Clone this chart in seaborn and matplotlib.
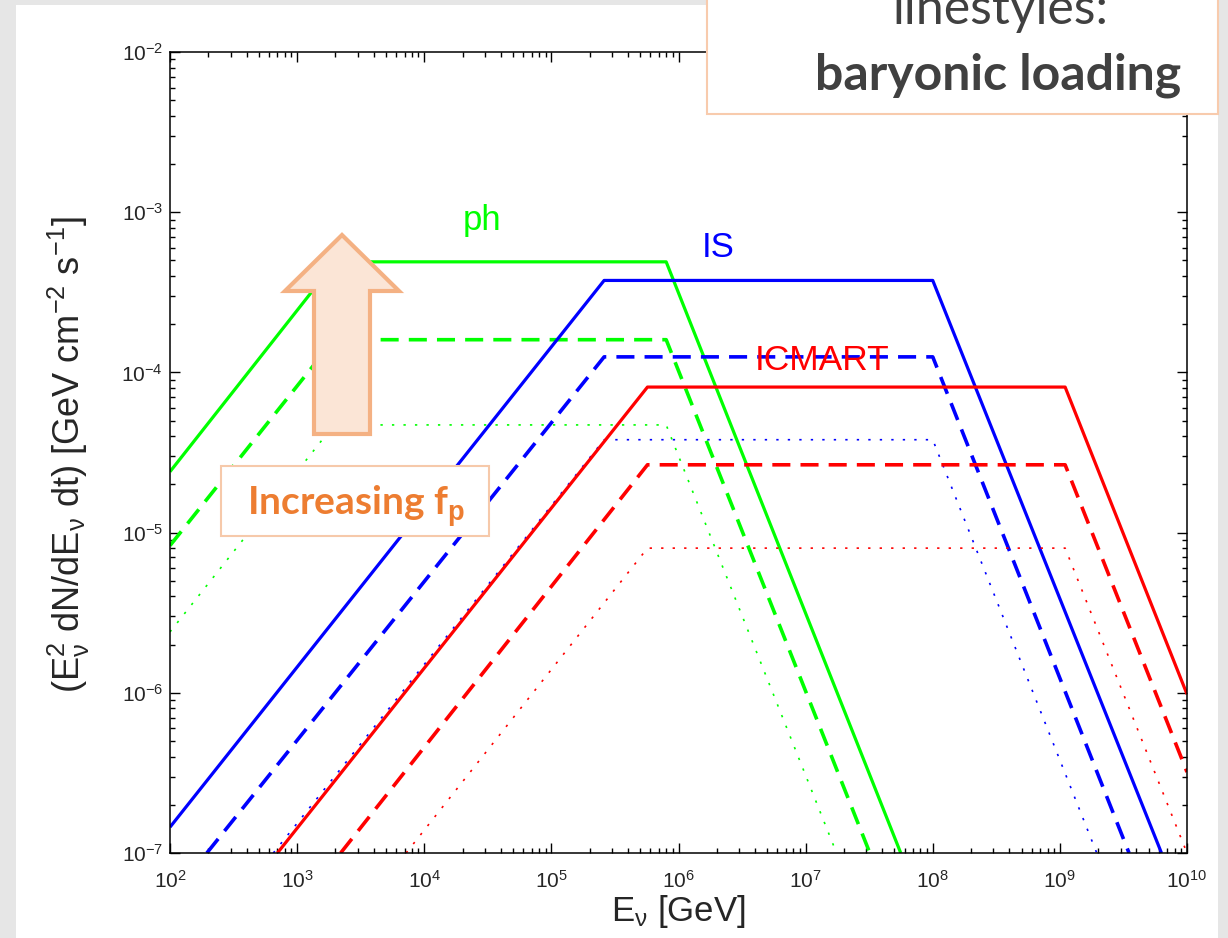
import numpy as np
import pandas as pd
import matplotlib
matplotlib.use('Agg')
import matplotlib.pyplot as plt
import seaborn as sns
from matplotlib.patches import Rectangle, Polygon
from matplotlib.ticker import LogLocator, NullFormatter

# corner points of each broken power law (start, plateau start, plateau end, end)
# photospheric (ph)
ph_E_solid = [1e2, 2.0e3, 8.0e5, 5.6e7]
ph_F_solid = [2.4e-5, 4.9e-4, 4.9e-4, 1e-7]
ph_E_dash = [1e2, 1.95e3, 8.0e5, 3.2e7]
ph_F_dash = [8.3e-6, 1.6e-4, 1.6e-4, 1e-7]
ph_E_dot = [1e2, 1.95e3, 8.0e5, 1.75e7]
ph_F_dot = [2.4e-6, 4.7e-5, 4.7e-5, 1e-7]
# internal shock (IS)
is_E_solid = [1e2, 2.6e5, 1.0e8, 6.3e9]
is_F_solid = [1.45e-7, 3.75e-4, 3.75e-4, 1e-7]
is_E_dash = [1.95e2, 2.6e5, 1.0e8, 3.5e9]
is_F_dash = [1e-7, 1.25e-4, 1.25e-4, 1e-7]
is_E_dot = [6.5e2, 2.6e5, 1.0e8, 1.95e9]
is_F_dot = [1e-7, 3.8e-5, 3.8e-5, 1e-7]
# ICMART
icm_E_solid = [7.0e2, 5.7e5, 1.1e9, 1e10]
icm_F_solid = [1e-7, 8.1e-5, 8.1e-5, 9.8e-7]
icm_E_dash = [2.2e3, 5.7e5, 1.1e9, 1e10]
icm_F_dash = [1e-7, 2.65e-5, 2.65e-5, 3.2e-7]
icm_E_dot = [7.2e3, 5.7e5, 1.1e9, 1e10]
icm_F_dot = [1e-7, 8.0e-6, 8.0e-6, 1e-7]

models = ['ph', 'IS', 'ICMART']
loadings = ['solid', 'dash', 'dot']
curves = {
    ('ph', 'solid'): (ph_E_solid, ph_F_solid),
    ('ph', 'dash'): (ph_E_dash, ph_F_dash),
    ('ph', 'dot'): (ph_E_dot, ph_F_dot),
    ('IS', 'solid'): (is_E_solid, is_F_solid),
    ('IS', 'dash'): (is_E_dash, is_F_dash),
    ('IS', 'dot'): (is_E_dot, is_F_dot),
    ('ICMART', 'solid'): (icm_E_solid, icm_F_solid),
    ('ICMART', 'dash'): (icm_E_dash, icm_F_dash),
    ('ICMART', 'dot'): (icm_E_dot, icm_F_dot),
}

rows = []
for (m, l), (E, F) in curves.items():
    for e, f in zip(E, F):
        rows.append({'model': m, 'loading': l, 'E': e, 'F': f})
df = pd.DataFrame(rows)

colors = {'ph': '#00ff00', 'IS': '#0000ff', 'ICMART': '#ff0000'}
styles = {
    'solid': dict(lw=2.3, ls='-'),
    'dash': dict(lw=2.6, ls=(0, (5, 2.8))),
    'dot': dict(lw=1.2, ls=(0, (1.4, 5.5))),
}

sns.set_style('ticks')
plt.rcParams['font.family'] = ['Liberation Sans', 'DejaVu Sans']
plt.rcParams['mathtext.fontset'] = 'custom'
plt.rcParams['mathtext.rm'] = 'Liberation Sans'
plt.rcParams['mathtext.it'] = 'Liberation Sans'
plt.rcParams['mathtext.bf'] = 'Liberation Sans:bold'

W, H = 1228, 938
fig = plt.figure(figsize=(W / 100, H / 100), dpi=100)
fig.patch.set_facecolor('#e6e6e6')
fig.patches.append(Rectangle((16 / W, 0), (1218 - 16) / W, 1 - 5 / H,
                             transform=fig.transFigure, facecolor='white',
                             edgecolor='none', zorder=-5))

ax = fig.add_axes([170 / W, 1 - 853 / H, (1187 - 170) / W, (853 - 52) / H])
ax.set_xscale('log')
ax.set_yscale('log')

for m in models:
    for l in loadings:
        sub = df[(df['model'] == m) & (df['loading'] == l)]
        sns.lineplot(data=sub, x='E', y='F', ax=ax, color=colors[m],
                     sort=False, estimator=None, solid_capstyle='butt',
                     dash_capstyle='butt', **styles[l])

ax.set_xlim(1e2, 1e10)
ax.set_ylim(1e-7, 1e-2)

ax.xaxis.set_major_locator(LogLocator(base=10, numticks=20))
ax.xaxis.set_minor_locator(LogLocator(base=10, subs=np.arange(2, 10), numticks=20))
ax.yaxis.set_major_locator(LogLocator(base=10, numticks=20))
ax.yaxis.set_minor_locator(LogLocator(base=10, subs=np.arange(2, 10), numticks=20))
ax.xaxis.set_minor_formatter(NullFormatter())
ax.yaxis.set_minor_formatter(NullFormatter())

ax.tick_params(which='both', direction='in', top=True, right=True, color='black',
               width=1.0)
ax.tick_params(which='major', length=7, labelsize=15)
ax.tick_params(which='minor', length=3.5)
ax.tick_params(axis='x', which='major', pad=12)
ax.tick_params(axis='y', which='major', pad=5)
for s in ax.spines.values():
    s.set_linewidth(1.1)
    s.set_color('black')

ax.set_xlabel(r'E$_\nu$ [GeV]', fontsize=25)
ax.xaxis.set_label_coords(0.5, -0.05)
ax.xaxis.label.set_va('top')
ax.set_ylabel(r'(E$_\nu^2$ dN/dE$_\nu$ dt) [GeV cm$^{-2}$ s$^{-1}$]', fontsize=26)
ax.yaxis.set_label_coords(-0.077, 0.497)

ax.text(2.86e4, 8.9e-4, 'ph', color=colors['ph'], fontsize=25, ha='center', va='center')
ax.text(2.07e6, 6.0e-4, 'IS', color=colors['IS'], fontsize=25, ha='center', va='center')
ax.text(1.35e7, 1.19e-4, 'ICMART', color=colors['ICMART'], fontsize=25.5,
        ha='center', va='center')

# block arrow (figure pixels)
arrow_px = [(342, 235), (399, 291), (370, 291), (370, 434),
            (314, 434), (314, 291), (285, 291)]
fig.patches.append(Polygon([(x / W, 1 - y / H) for x, y in arrow_px], closed=True,
                           transform=fig.transFigure, facecolor='#fbe5d6',
                           edgecolor='#f4b183', lw=3, joinstyle='miter', zorder=5))

# Increasing f_p box
fig.patches.append(Rectangle((221 / W, 1 - 536 / H), (489 - 221) / W, (536 - 466) / H,
                             transform=fig.transFigure, facecolor='white',
                             edgecolor='#f6c9aa', lw=1.5, zorder=5))
fig.text(356 / W, 1 - 515 / H, r'Increasing f$_{\mathbf{p}}$', family='Lato',
         weight='bold', color='#ed7d31', fontsize=28, ha='center', va='baseline',
         zorder=6)

# legend box top right
fig.patches.append(Rectangle((707 / W, 1 - 114 / H), (1218 - 707) / W, 130 / H,
                             transform=fig.transFigure, facecolor='white',
                             edgecolor='#f8cbad', lw=1.5, zorder=5))
fig.text(1000 / W, 1 - 24 / H, 'linestyles:', family='Lato', color='#404040',
         fontsize=36, ha='center', va='baseline', zorder=6)
fig.text(998 / W, 1 - 89 / H, 'baryonic loading', family='Lato', weight='bold',
         color='#404040', fontsize=36, ha='center', va='baseline', zorder=6)

fig.savefig('out.png', dpi=100, facecolor=fig.get_facecolor())
